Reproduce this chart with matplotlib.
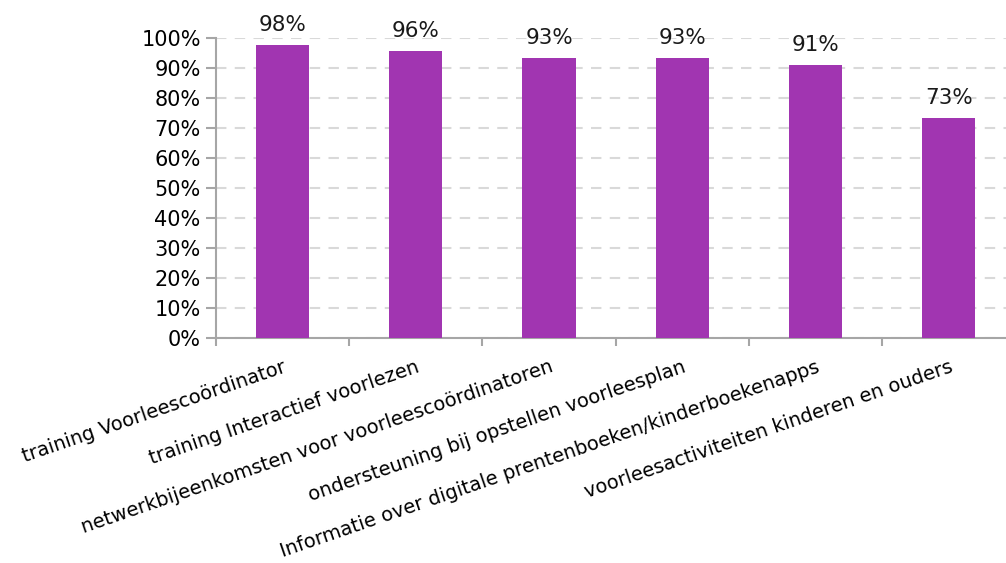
import numpy as np
import matplotlib
matplotlib.use('Agg')
import matplotlib.pyplot as plt
from matplotlib.ticker import FixedLocator, PercentFormatter

categories = [
    'training Voorleescoördinator',
    'training Interactief voorlezen',
    'netwerkbijeenkomsten voor voorleescoördinatoren',
    'ondersteuning bij opstellen voorleesplan',
    'Informatie over digitale prentenboeken/kinderboekenapps',
    'voorleesactiviteiten kinderen en ouders',
]
values = [97.7, 95.7, 93.3, 93.3, 91.0, 73.3]
labels = ['98%', '96%', '93%', '93%', '91%', '73%']

plt.rcParams['font.family'] = ['DejaVu Sans']

fig = plt.figure(figsize=(10.06, 5.63), dpi=100)
ax = fig.add_axes([216 / 1006, 1 - 338 / 563, 1 - 216 / 1006, 300 / 563])

x = np.arange(len(categories))
bars = ax.bar(x, values, width=0.4, color='#A135B1', zorder=3)

for xi, v, lab in zip(x, values, labels):
    ax.text(xi, v + 3.3, lab, ha='center', va='bottom', fontsize=15.5, color='#1a1a1a')

ax.yaxis.set_major_locator(FixedLocator(np.arange(0, 101, 10)))
ax.yaxis.set_major_formatter(PercentFormatter(decimals=0))
ax.yaxis.grid(True, linestyle=(0, (5, 4)), color='#D9D9D9', linewidth=1.5, zorder=0)

ax.set_xticks(x)
ax.set_xticklabels(categories, rotation=19, ha='right', rotation_mode='anchor', fontsize=14)
ax.set_xticks(np.arange(-0.5, len(categories), 1), minor=True)
ax.tick_params(axis='x', which='major', length=0, pad=14)
ax.tick_params(axis='x', which='minor', length=6, width=1.5, color='#A6A6A6')
ax.tick_params(axis='y', length=7, width=1.5, color='#A6A6A6', labelsize=15, pad=4)

ax.set_ylim(0, 100)
ax.set_xlim(-0.5, 5.43)

for side in ['top', 'right']:
    ax.spines[side].set_visible(False)
for side in ['left', 'bottom']:
    ax.spines[side].set_color('#A6A6A6')
    ax.spines[side].set_linewidth(1.5)

fig.savefig('out.png', dpi=100)
